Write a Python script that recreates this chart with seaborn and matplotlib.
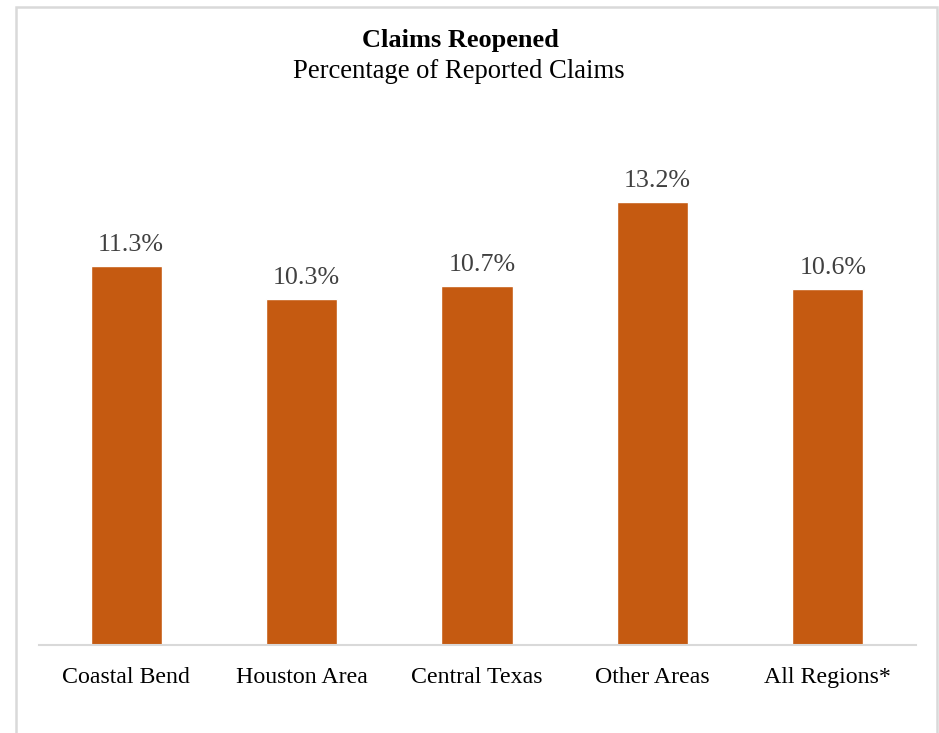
import matplotlib
matplotlib.use("Agg")
import matplotlib.pyplot as plt
from matplotlib.patches import Rectangle
import seaborn as sns
import pandas as pd

regions = ["Coastal Bend", "Houston Area", "Central Texas", "Other Areas", "All Regions*"]
reopened_pct = [11.3, 10.3, 10.7, 13.2, 10.6]
value_labels = ["11.3%", "10.3%", "10.7%", "13.2%", "10.6%"]

title = "Claims Reopened"
subtitle = "Percentage of Reported Claims"

sns.set_theme(style="white")
plt.rcParams["font.family"] = ["Liberation Serif", "DejaVu Serif"]

df = pd.DataFrame({"region": regions, "pct": reopened_pct})

W, H = 939, 733
fig = plt.figure(figsize=(W / 100, H / 100), dpi=100)
ax = fig.add_axes([38.5 / W, (H - 645) / H, 877 / W, 470 / H])

sns.barplot(data=df, x="region", y="pct", color="#C55A11", width=0.405,
            saturation=1, ax=ax)
ax.set_ylim(0, 14)
ax.set_xlim(-0.5, len(regions) - 0.5)

for i, (v, lab) in enumerate(zip(reopened_pct, value_labels)):
    ax.annotate(lab, (i, v), xytext=(3.6, 7), textcoords="offset points",
                ha="center", va="bottom", fontsize=18.7, color="#404040")

ax.set_xlabel("")
ax.set_ylabel("")
ax.set_yticks([])
ax.tick_params(axis="x", length=0, pad=15.5, labelsize=17.2, labelcolor="#000000")
for side in ["left", "right", "top"]:
    ax.spines[side].set_visible(False)
ax.spines["bottom"].set_color("#D9D9D9")
ax.spines["bottom"].set_linewidth(1.5)

fig.text(460 / W, 1 - 41 / H, title, ha="center", va="center",
         fontsize=19, fontweight="bold", color="#000000")
fig.text(459 / W, 1 - 72 / H, subtitle, ha="center", va="center",
         fontsize=19.2, color="#000000")

# outer frame, open at the bottom edge of the canvas
fig.patches.append(Rectangle((16 / W, -0.05), (937 - 16) / W, (H - 7) / H + 0.05,
                             transform=fig.transFigure, fill=False,
                             edgecolor="#D9D9D9", linewidth=1.8))

fig.savefig("out.png", dpi=100)
